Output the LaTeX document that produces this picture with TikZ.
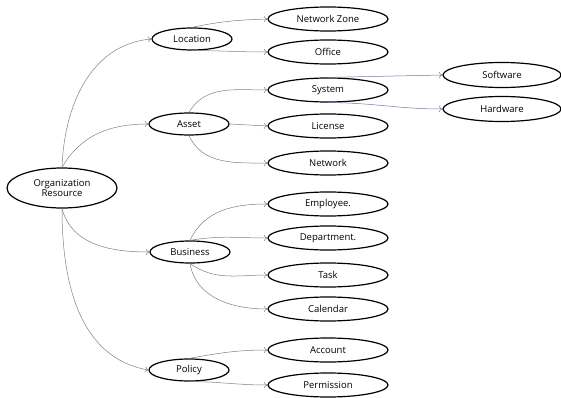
\documentclass[tikz,border=0pt]{standalone}
\usepackage{fontspec}
\setmainfont{Open Sans}
\usetikzlibrary{calc,arrows,arrows.meta,shapes.geometric}
\begin{document}
\begin{tikzpicture}[x=1pt,y=1pt,font=\fontsize{9.5}{10.5}\selectfont,
    ent/.style={ellipse,draw,line width=1.2pt,inner sep=0pt,minimum width=120pt,minimum height=24pt},
    mid/.style={ent,minimum width=80pt,minimum height=22pt},
    lnk/.style={-{To[length=3.5pt,width=6pt]},black!50,line width=0.5pt},
    sublnk/.style={lnk,color={rgb,255:red,115;green,115;blue,165}}]
              \useasboundingbox (0,0) rectangle (561,-398);
              \node[ent,minimum width=110pt,minimum height=40pt,align=center](org)at(62,-188){Organization\\Resource};
              \node[mid](loc)at(192,-39){Location};
              \node[mid](asset)at(189,-124){Asset};
              \node[mid](bus)at(190,-252){Business};
              \node[mid](pol)at(189,-370){Policy};
              \node[ent](nz)at(328,-19){Network Zone};
              \node[ent](off)at(328,-52){Office};
              \node[ent](sys)at(328,-90){System};
              \node[ent](lic)at(328,-126){License};
              \node[ent](net)at(328,-163){Network};
              \node[ent](emp)at(328,-204){Employee.};
              \node[ent](dep)at(328,-238){Department.};
              \node[ent](task)at(328,-275){Task};
              \node[ent](cal)at(328,-309){Calendar};
              \node[ent](acc)at(328,-350){Account};
              \node[ent](perm)at(328,-385){Permission};
              \node[ent,minimum width=118pt,minimum height=25pt](sw)at(502,-75){Software};
              \node[ent,minimum width=118pt,minimum height=25pt](hw)at(502,-109){Hardware};
              \draw[lnk](org.north) to[out=88,in=185] (loc.west);
              \draw[lnk](org.north) to[out=60,in=180] (asset.west);
              \draw[lnk](org.south) to[out=-75,in=180] (bus.west);
              \draw[lnk](org.south) to[out=-90,in=170] (pol.west);
              \draw[lnk](loc.north) to[out=12,in=182] (nz.west);
              \draw[lnk](loc.south) to[out=0,in=180] (off.west);
              \draw[lnk](asset.north) to[out=60,in=180] (sys.west);
              \draw[lnk](asset.east) -- (lic.west);
              \draw[lnk](asset.south) to[out=-65,in=180] (net.west);
              \draw[sublnk](sys.north) -- (sw.west);
              \draw[sublnk](sys.south) to[out=0,in=180] (hw.west);
              \draw[lnk](bus.north) to[out=65,in=180] (emp.west);
              \draw[lnk](bus.north) to[out=10,in=180] (dep.west);
              \draw[lnk](bus.south) to[out=-35,in=180] (task.west);
              \draw[lnk](bus.south) to[out=-80,in=180] (cal.west);
              \draw[lnk](pol.north) to[out=10,in=180] (acc.west);
              \draw[lnk](pol.south) to[out=0,in=180] (perm.west);
            \end{tikzpicture}
\end{document}
